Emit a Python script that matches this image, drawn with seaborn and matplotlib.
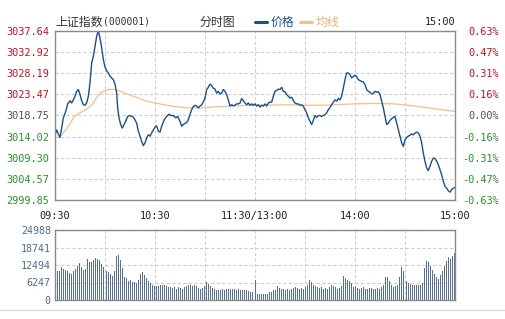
import numpy as np
import pandas as pd
import matplotlib
matplotlib.use("Agg")
import matplotlib.pyplot as plt
from matplotlib.lines import Line2D
import seaborn as sns

# ---------------- data ----------------
prev_close = 3018.75
y_levels = [2999.85, 3004.57, 3009.30, 3014.02, 3018.75, 3023.47, 3028.19, 3032.92, 3037.64]
pct_labels = ["-0.63%", "-0.47%", "-0.31%", "-0.16%", "0.00%", "0.16%", "0.31%", "0.47%", "0.63%"]
time_labels = ["09:30", "10:30", "11:30/13:00", "14:00", "15:00"]
vol_levels = [0, 6247, 12494, 18741, 24988]

price_min = [0, 1, 2, 3, 4, 5, 6.4, 7.6, 9, 10, 11, 12, 13, 14, 15, 16, 17, 18, 19, 20,
             21, 22, 23, 24, 25, 26, 27, 28, 29, 30, 31, 32, 33, 34, 35, 36, 37, 37.6, 38.4, 39.4,
             40.4, 41.4, 42.4, 43.6, 45, 46.4, 47.6, 49, 50, 51, 52, 53, 54, 55, 56, 57, 58, 59, 60,
             61, 62, 63, 64, 65.6, 67, 68.4, 69.6, 71, 72.4, 73.6, 75, 76, 77, 78.4, 79.6, 80.6, 81.6,
             82.6, 84, 85, 86, 87, 88, 89, 90, 91, 92, 93, 94, 95, 96, 97, 98, 99, 100, 101, 102, 103,
             104, 105, 106, 107, 108, 109, 110, 111, 112, 113, 114, 115, 116, 117, 118, 119, 120,
             121, 122, 123, 124, 125, 126, 127, 128, 129, 130, 131, 132, 133, 134, 135, 136, 137, 138,
             139, 140, 141, 142, 143, 144, 145, 146, 147, 148, 149, 150, 151, 152, 153, 154, 155, 156,
             157, 158, 159, 160, 161, 162, 163, 164, 165, 166, 167, 168, 169, 170, 171, 172, 173, 174,
             175, 176, 177, 178, 179, 180, 181, 182, 183, 184, 185, 186, 187, 188, 189, 190, 191, 192,
             193, 194, 195, 196, 197, 198, 199, 200, 201, 202, 203, 204, 205, 206, 207, 208, 209, 210,
             211, 212, 213, 214, 215, 216, 217, 218, 219, 220, 221, 222, 223, 224, 225, 226, 227, 228,
             229, 230, 231, 232, 233, 234, 235, 236, 237, 238, 239, 240]
price_val = [3014.3, 3015.5, 3014.6, 3013.8, 3015.9, 3018.15, 3019.6, 3021.3, 3022.0, 3021.5,
             3022.2, 3023.0, 3024.1, 3024.5, 3023.4, 3022.0, 3021.1, 3021.0, 3021.5, 3023.0,
             3026.0, 3030.4, 3031.9, 3034.1, 3036.4, 3037.6, 3036.0, 3033.8, 3031.2, 3029.5,
             3028.7, 3028.2, 3027.5, 3027.1, 3026.7, 3025.7, 3023.7, 3020.4, 3018.2, 3016.7,
             3015.9, 3016.7, 3017.4, 3018.5, 3018.7, 3018.5, 3018.0, 3017.0, 3015.2, 3014.1,
             3012.9, 3012.0, 3012.6, 3013.7, 3014.4, 3014.1, 3014.8, 3015.5, 3016.1,
             3016.4, 3015.2, 3015.0, 3016.3, 3017.8, 3018.5, 3019.0, 3018.7, 3018.7, 3018.2,
             3018.5, 3017.4, 3016.3, 3016.7, 3017.0, 3017.4, 3018.5, 3019.6, 3020.5, 3021.0,
             3020.8, 3020.4, 3020.8, 3021.1, 3021.7, 3022.6, 3024.5, 3025.0, 3025.7, 3025.4,
             3024.8, 3024.6, 3023.7, 3024.1, 3023.5, 3023.7, 3024.5, 3024.1, 3023.4, 3022.2,
             3020.8, 3021.1, 3020.9, 3021.0, 3021.3, 3021.3, 3021.5, 3022.5, 3022.0, 3021.5,
             3021.1, 3021.5, 3021.0, 3021.3, 3021.0, 3021.3,
             3020.8, 3021.1, 3020.6, 3021.0, 3020.8, 3021.3, 3020.8, 3021.5, 3021.7, 3021.7,
             3023.0, 3024.1, 3024.3, 3024.6, 3024.5, 3025.0, 3024.1, 3024.0, 3023.4, 3023.0,
             3022.6, 3022.8, 3022.0, 3021.5, 3021.3, 3021.3, 3021.0, 3021.1, 3020.8, 3020.0,
             3019.3, 3018.2, 3017.4, 3016.7, 3017.6, 3018.7, 3018.3, 3018.7, 3018.7, 3018.5,
             3018.7, 3018.9, 3019.3, 3020.0, 3020.5, 3021.1, 3021.7, 3022.2, 3021.9, 3022.5,
             3022.2, 3023.0, 3024.8, 3026.7, 3028.2, 3028.2, 3027.8, 3027.1, 3027.4, 3027.7,
             3027.4, 3026.7, 3026.5, 3026.3, 3026.2, 3025.6, 3024.5, 3024.1, 3023.9, 3023.5,
             3023.7, 3024.1, 3023.9, 3024.0, 3023.4, 3021.9, 3020.4, 3018.5, 3016.7, 3017.0,
             3017.6, 3018.0, 3018.3, 3018.5, 3017.0, 3015.5, 3014.1, 3012.6, 3011.8, 3013.3,
             3013.8, 3014.1, 3014.3, 3014.6, 3014.4, 3014.8, 3015.0, 3014.8, 3014.1, 3012.6,
             3010.3, 3008.5, 3007.0, 3006.4, 3007.4, 3008.5, 3009.2, 3009.1, 3008.5, 3007.7,
             3006.6, 3005.5, 3004.0, 3002.9, 3002.5, 3001.9, 3001.6, 3002.2, 3002.5, 3002.6]

avg_min = [2, 4, 8, 12, 16, 20, 23, 25, 28, 32, 35, 38, 42, 46, 50, 54, 60, 70, 80, 88, 94,
           104, 120, 140, 150, 160, 180, 192, 204, 216, 228, 240]
avg_val = [3014.0, 3014.4, 3016.3, 3018.7, 3019.5, 3020.4, 3021.5, 3022.8, 3023.9, 3024.5,
           3024.6, 3024.3, 3023.7, 3023.1, 3022.6, 3022.0, 3021.5, 3020.8, 3020.4, 3020.4,
           3020.6, 3020.8, 3021.0, 3021.1, 3021.0, 3021.0, 3021.3, 3021.4, 3021.3, 3020.8,
           3020.2, 3019.6]

vol_am = [9900, 10200, 10500, 11800, 11200, 10600, 10200, 9600, 9400, 10500, 11100, 12000,
          13200, 11800, 10800, 11200, 14600, 13600, 13400, 14400, 15000, 14600, 14200, 12900,
          11700, 10500, 9900, 9300, 8700, 10200, 15600, 16200, 14400, 11400, 8100, 7800, 6700,
          7200, 6300, 6400, 6100, 7000, 9300, 10000, 9000, 7900, 6700, 6100, 5200, 5100, 4900,
          4900, 5200, 5500, 5200, 4900, 4500, 4600, 4300, 4500, 4000, 4500, 4300, 4000, 4500,
          4900, 5500, 5200, 4900, 5200, 4900, 4300, 4000, 4300, 4900, 6300, 5800, 4900, 4300,
          3900, 3700, 3500, 3700, 3900, 3700, 3900, 3900, 4100, 4000, 3900, 3700, 3900, 3700,
          3500, 3400, 3400, 3200, 2900, 2800, 7300]
vol_pm = [2100, 2100, 2200, 2100, 2300, 2300, 2700, 3000, 3600, 3700, 4900, 4300, 4000, 3900,
          3700, 3900, 3700, 4000, 4300, 4500, 4300, 3900, 4300, 4000, 4500, 5400, 7000, 6400,
          5200, 4900, 4500, 4300, 4500, 4000, 4300, 3900, 4500, 5200, 4900, 4500, 4000, 4300,
          4900, 8500, 7900, 7300, 6700, 6100, 4700, 4900, 4300, 4000, 4300, 4500, 4000, 3900,
          4300, 4300, 3900, 4000, 4300, 3900, 4500, 5400, 8100, 8200, 6700, 5200, 4500, 4900,
          5400, 8300, 11700, 10500, 6700, 6100, 5800, 5500, 5500, 5200, 5300, 5500, 6100, 11400,
          14000, 13400, 12000, 10800, 9300, 8100, 7600, 9000, 10200, 12000, 13800, 15200, 14800,
          15600, 16700]

# ---------------- styling ----------------
RED = "#cc1122"
GREEN = "#2f8f2f"
GRAY = "#555555"
BLUE = "#1d4f8c"
ORANGE = "#f2c18c"
VOLC = "#56708f"
MONO = "DejaVu Sans Mono"

sns.set_theme(style="white")
plt.rcParams['font.family'] = ['Noto Sans CJK SC', 'DejaVu Sans']

W, H = 505, 319
fig = plt.figure(figsize=(W / 100, H / 100), dpi=100)
fig.patch.set_facecolor("white")

def fx(px):
    return px / W

def fy(py):
    return 1 - py / H

ax = fig.add_axes([fx(55), fy(200), 400 / W, (200 - 30.67) / H])
axv = fig.add_axes([fx(55), fy(300), 400 / W, 70 / H])

price_df = pd.DataFrame({"t": price_min, "p": price_val})
avg_df = pd.DataFrame({"t": avg_min, "p": avg_val})

sns.lineplot(data=avg_df, x="t", y="p", ax=ax, color=ORANGE, lw=0.9)
sns.lineplot(data=price_df, x="t", y="p", ax=ax, color=BLUE, lw=1.0)

ax.set_xlim(0, 240)
ax.set_ylim(y_levels[0], y_levels[-1])
ax.set_xlabel("")
ax.set_ylabel("")

# volume
vol_t = list(np.linspace(0.4, 120, len(vol_am))) + list(np.linspace(121.2, 239.6, len(vol_pm)))
vol_df = pd.DataFrame({"t": vol_t, "v": vol_am + vol_pm})
sns.barplot(data=vol_df, x="t", y="v", ax=axv, native_scale=True, color=VOLC,
            saturation=1, width=0.5, errorbar=None, linewidth=0)
for p in axv.patches:
    p.set_antialiased(False)
axv.set_xlim(0, 240)
axv.set_ylim(0, vol_levels[-1])

grid_kw = dict(color="#cfcfcf", lw=0.8, ls=(0, (3, 2)))
for a in (ax, axv):
    a.set_xticks([0, 60, 120, 180, 240])
    a.set_xticks([30, 90, 150, 210], minor=True)
    a.grid(True, which="both", axis="x", **grid_kw)
    a.grid(True, which="major", axis="y", **grid_kw)
    a.set_axisbelow(True)
    for s in a.spines.values():
        s.set_color("#8a8a8a")
        s.set_linewidth(1.0)
    a.set_facecolor("white")

ax.set_yticks(y_levels)
ax.set_yticklabels([f"{v:.2f}" for v in y_levels])
ax.set_xticklabels(time_labels)
ax.tick_params(axis="both", which="both", length=0)
ax.tick_params(axis="y", pad=4)
ax.tick_params(axis="x", pad=8)
for lab in ax.get_xticklabels():
    lab.set_fontfamily(MONO)
    lab.set_fontsize(7.4)
    lab.set_color("#222222")

def lvl_color(v):
    if abs(v - prev_close) < 1e-6:
        return GRAY
    return RED if v > prev_close else GREEN

for lab, v in zip(ax.get_yticklabels(), y_levels):
    lab.set_fontfamily(MONO)
    lab.set_fontsize(7.4)
    lab.set_color(lvl_color(v))

ax2 = ax.twinx()
ax2.set_ylim(y_levels[0], y_levels[-1])
ax2.set_yticks(y_levels)
ax2.set_yticklabels(pct_labels)
ax2.tick_params(axis="y", length=0, pad=31.5)
ax2.grid(False)
for s in ax2.spines.values():
    s.set_visible(False)
for lab, v in zip(ax2.get_yticklabels(), y_levels):
    lab.set_fontfamily(MONO)
    lab.set_fontsize(7.4)
    lab.set_color(lvl_color(v))
    lab.set_horizontalalignment("right")

axv.set_yticks(vol_levels)
axv.set_yticklabels([str(v) for v in vol_levels])
axv.set_xticklabels([])
axv.set_xlabel("")
axv.set_ylabel("")
axv.tick_params(axis="both", which="both", length=0)
axv.tick_params(axis="y", pad=3)
for lab in axv.get_yticklabels():
    lab.set_fontfamily(MONO)
    lab.set_fontsize(7.2)
    lab.set_color("#4f6b8a")

# header
hy = fy(22)
fig.text(fx(55), hy, "上证指数", fontsize=8.6, color="#333333", va="center", ha="left")
fig.text(fx(103), hy, "(000001)", fontsize=7.0, color="#333333", va="center", ha="left",
         family=MONO)
fig.text(fx(200), hy, "分时图", fontsize=8.6, color="#333333", va="center", ha="left")
fig.add_artist(Line2D([fx(255), fx(267)], [hy, hy], transform=fig.transFigure,
                      color=BLUE, lw=2.2))
fig.text(fx(271), hy, "价格", fontsize=8.6, color=BLUE, va="center", ha="left")
fig.add_artist(Line2D([fx(300), fx(312)], [hy, hy], transform=fig.transFigure,
                      color=ORANGE, lw=2.2))
fig.text(fx(316), hy, "均线", fontsize=8.6, color="#eab57c", va="center", ha="left")
fig.text(fx(455), hy, "15:00", fontsize=7.4, color="#222222", va="center", ha="right",
         family=MONO)

fig.add_artist(Line2D([0, 1], [fy(310), fy(310)], transform=fig.transFigure,
                      color="#dddddd", lw=1.0))

fig.savefig("out.png", dpi=100, facecolor="white")
